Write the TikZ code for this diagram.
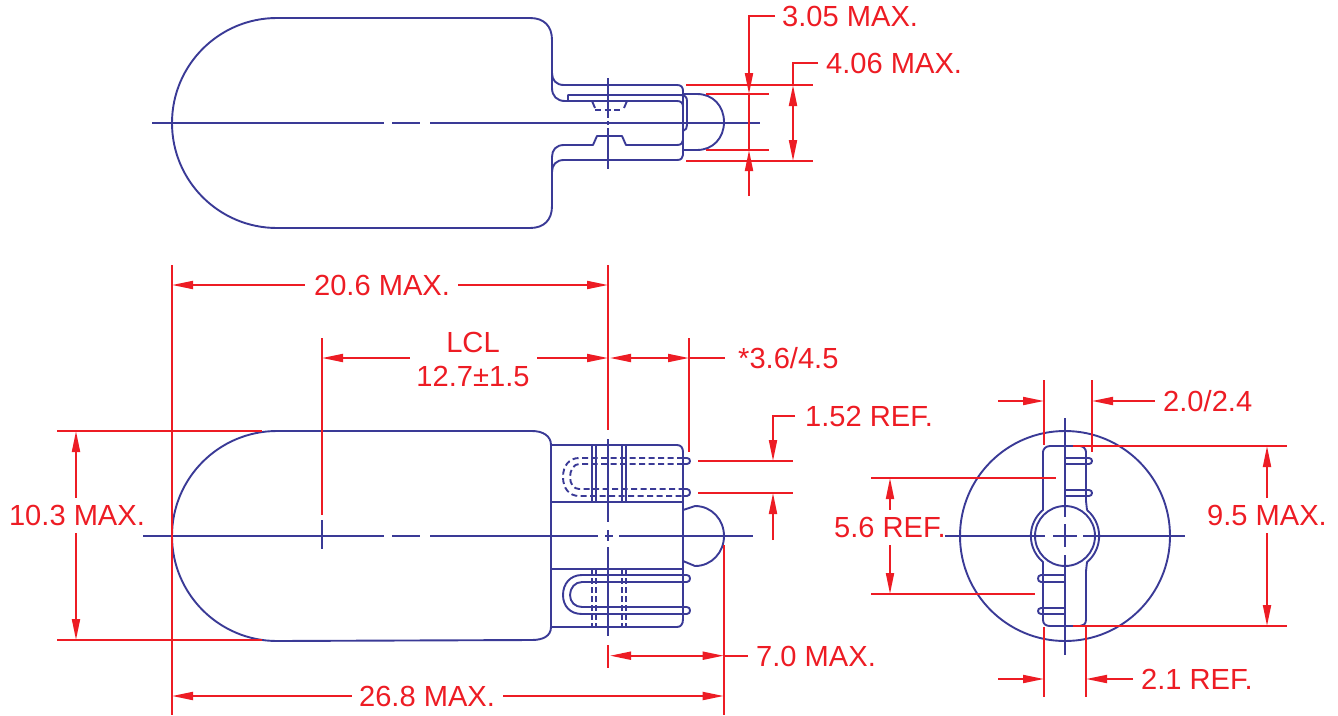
\documentclass[tikz,border=0pt]{standalone}
\usepackage{fontspec}
\setmainfont{Liberation Sans}
\usetikzlibrary{arrows.meta}
\definecolor{dblue}{HTML}{3A3A96}
\definecolor{dred}{HTML}{ED1C24}
\tikzset{
  bl/.style={draw=dblue,line width=1.9pt,line join=round},
  bld/.style={bl,dash pattern=on 6pt off 3.5pt},
  rd/.style={draw=dred,line width=1.9pt},
  ar/.style={rd,-{Triangle[length=21pt,width=8pt]}},
  ra/.style={rd,{Triangle[length=21pt,width=8pt]}-},
  aa/.style={rd,{Triangle[length=21pt,width=8pt]}-{Triangle[length=21pt,width=8pt]}},
  lbl/.style={text=dred,inner sep=0pt,font=\fontsize{29.1}{34}\selectfont},
}
\begin{document}
\begin{tikzpicture}[x=1pt,y=-1pt]
\useasboundingbox (0,0) rectangle (1338,715);
% ---------- TOP VIEW ----------
\draw[bl] (277,18) arc[start angle=-90,end angle=-270,radius=105] -- (530,228)
  .. controls (544,228) and (552,220) .. (552,206) -- (552,157) .. controls (552,150) and (556,145) .. (564,145)
  -- (593,145) -- (597,136) -- (622,136) -- (626,145) -- (677,145) .. controls (681,145) and (683,143) .. (683,140)
  -- (683,107) .. controls (683,103) and (681,101) .. (677,101) -- (565,101)
  .. controls (557,101) and (552,96) .. (552,88);
\draw[bl] (277,18) -- (530,18) .. controls (544,18) and (552,26) .. (552,40) -- (552,88);
\draw[bl] (552,73) .. controls (552,80) and (556,85) .. (564,85) -- (677,85) .. controls (681,85) and (683,87) .. (683,91)
  -- (683,155) .. controls (683,158) and (681,160) .. (677,160) -- (564,160) .. controls (556,160) and (552,165) .. (552,172);
\draw[bl] (568,101) -- (568,95) -- (680,95) .. controls (685,95) and (687,97) .. (687,101) -- (687,125) .. controls (687,128) and (686,130) .. (683,131);
\draw[bl] (683,94) -- (697,94) .. controls (713,94) and (724,106) .. (724,122) .. controls (724,138) and (713,150) .. (697,150) -- (683,150);
\draw[bl] (592,101) -- (595,108);
\draw[bl] (627,101) -- (624,108);
\draw[bld] (595,110) -- (622,110);
\draw[bl] (152,123) -- (384,123) (392,123) -- (420,123) (430,123) -- (760,123);
\draw[bl] (608,78) -- (608,118) (608,121) -- (608,125) (608,128) -- (608,169);
% top dims
\draw[rd] (686,85) -- (813,85) (686,161) -- (813,161) (706,94) -- (769,94) (706,150) -- (769,150);
\draw[rd] (749,94) -- (749,150);
\node[lbl,anchor=west] (t305) at (782,16.5) {3.05 MAX.};
\node[lbl,anchor=west] (t406) at (826,63.5) {4.06 MAX.};
\draw[ar] (775,16) -- (749,16) -- (749,94);
\draw[ar] (749,196) -- (749,150);
\draw[rd] (818,63) -- (793,63) -- (793,85);
\draw[aa] (793,85) -- (793,161);
% ---------- SIDE VIEW ----------
\draw[bl] (277,431) arc[start angle=-90,end angle=-270,radius=105] -- (532,640)
  .. controls (543,640) and (551,636) .. (551,627);
\draw[bl] (277,431) -- (532,431) .. controls (543,431) and (551,436) .. (551,445) -- (551,627) -- (677,627)
  .. controls (681,627) and (683,624) .. (683,619) -- (683,452) .. controls (683,448) and (681,445) .. (677,445) -- (551,445);
\draw[bl] (551,502) -- (683,502) (551,569) -- (683,569);
\foreach \x in {592,596,622,626}{
  \draw[bl,line width=1.4pt] (\x,445) -- (\x,502);
  \draw[bld,line width=1.4pt,dash pattern=on 6pt off 3pt] (\x,569) -- (\x,626);
}
\draw[bl] (683,510) -- (695,506) .. controls (712,506) and (724,520) .. (724,536) .. controls (724,552) and (712,566) .. (695,566) -- (683,561);
% upper pins (hidden)
\draw[bld] (683,458) -- (579,458) .. controls (569,458) and (563,466) .. (563,477) .. controls (563,488) and (569,496) .. (579,496) -- (683,496);
\draw[bld] (683,464) -- (579,464) .. controls (574,464) and (570,470) .. (570,477) .. controls (570,484) and (574,489) .. (579,489) -- (683,489);
\draw[bl] (683,458) -- (687,458) .. controls (691,458) and (691,464) .. (687,464) -- (683,464);
\draw[bl] (683,489) -- (687,489) .. controls (691,489) and (691,496) .. (687,496) -- (683,496);
% lower pins
\draw[bl] (687,575) -- (582,575) .. controls (570,575) and (563,584) .. (563,595) .. controls (563,606) and (570,614) .. (582,614) -- (687,614);
\draw[bl] (687,582) -- (582,582) .. controls (575,582) and (570,588) .. (570,595) .. controls (570,602) and (575,607) .. (582,607) -- (687,607);
\draw[bl] (687,575) .. controls (691,575) and (691,582) .. (687,582);
\draw[bl] (687,607) .. controls (691,607) and (691,614) .. (687,614);
% centre lines
\draw[bl] (143,536) -- (384,536) (392,536) -- (420,536) (430,536) -- (598,536) (605,536) -- (613,536) (619,536) -- (753,536);
\draw[bl] (608,439) -- (608,522) (608,530) -- (608,541) (608,547) -- (608,636);
\draw[bl] (322,520) -- (322,549);
% side dims
\draw[rd] (172,265) -- (172,715);
\draw[rd] (608,265) -- (608,430);
\draw[rd] (608,645) -- (608,668);
\draw[rd] (322,338) -- (322,515);
\draw[rd] (689,338) -- (689,452);
\draw[rd] (723.7,545) -- (723.7,715);
\draw[rd] (57,431) -- (262,431) (57,640) -- (262,640);
\draw[rd] (698,461) -- (793,461) (698,493) -- (793,493);
\node[lbl] (t206) at (382,285.5) {20.6 MAX.};
\draw[ra] (172,285) -- (305,285);
\draw[ar] (458,285) -- (608,285);
\node[lbl] (tlcl) at (473,342.5) {LCL};
\node[lbl] (t127) at (473,376.5) {12.7±1.5};
\draw[ra] (322,358) -- (410,358);
\draw[ar] (537,358) -- (608,358);
\draw[aa] (610,358) -- (689,358);
\draw[rd] (689,358) -- (725,358);
\node[lbl,anchor=west] (t36) at (738,358.5) {*3.6/4.5};
\node[lbl] (t103) at (77,515.5) {10.3 MAX.};
\draw[ra] (76,431) -- (76,498);
\draw[ar] (76,533) -- (76,640);
\node[lbl,anchor=west] (t152) at (805,416.5) {1.52 REF.};
\draw[ar] (795,416) -- (773,416) -- (773,461);
\draw[ar] (773,540) -- (773,493);
\node[lbl,anchor=west] (t70) at (756,656) {7.0 MAX.};
\draw[aa] (610,655.7) -- (723.7,655.7);
\draw[rd] (723.7,655.7) -- (748,655.7);
\node[lbl] (t268) at (427,696) {26.8 MAX.};
\draw[ra] (172,696) -- (352,696);
\draw[ar] (503,696) -- (723.7,696);
% ---------- END VIEW ----------
\draw[bl] (1065,536) circle[radius=105];
\draw[bl] (1065,536) circle[radius=30];
\draw[bl] (1087,510) arc[start angle=-50,end angle=50,radius=34]
  .. controls (1087,566) and (1086,567) .. (1086,571) -- (1086,620) .. controls (1086,624) and (1083,626) .. (1080,626)
  -- (1050,626) .. controls (1046,626) and (1043,624) .. (1043,620) -- (1043,571) .. controls (1043,567) and (1043,566) .. (1043,562)
  arc[start angle=130,end angle=230,radius=34]
  .. controls (1043,506) and (1043,505) .. (1043,501) -- (1043,452) .. controls (1043,449) and (1046,446) .. (1050,446)
  -- (1080,446) .. controls (1083,446) and (1086,449) .. (1086,452) -- (1086,501) .. controls (1086,505) and (1087,506) .. (1087,510);
\draw[bl] (1065,458) -- (1089,458) .. controls (1093,458) and (1093,464) .. (1089,464) -- (1065,464);
\draw[bl] (1065,490) -- (1089,490) .. controls (1093,490) and (1093,496) .. (1089,496) -- (1065,496);
\draw[bl] (1065,575) -- (1041,575) .. controls (1037,575) and (1037,582) .. (1041,582) -- (1065,582);
\draw[bl] (1065,608) -- (1041,608) .. controls (1037,608) and (1037,614) .. (1041,614) -- (1065,614);
\draw[bl] (945,536) -- (1045,536) (1053,536) -- (1077,536) (1083,536) -- (1185,536);
\draw[bl] (1065,418) -- (1065,517) (1065,524) -- (1065,547) (1065,555) -- (1065,655);
% end dims
\draw[rd] (1044,380) -- (1044,445) (1092,380) -- (1092,452);
\draw[rd] (1044,627) -- (1044,697) (1086,626) -- (1086,697);
\draw[rd] (1073,446) -- (1287,446) (1073,626) -- (1287,626);
\draw[rd] (871,478) -- (1056,478) (871,594) -- (1035,594);
\node[lbl,anchor=west] (t20) at (1163,401.5) {2.0/2.4};
\draw[ar] (998,401) -- (1044,401);
\draw[ar] (1155,401) -- (1092,401);
\node[lbl] (t95) at (1267,515.5) {9.5 MAX.};
\draw[ra] (1267,446) -- (1267,498);
\draw[ar] (1267,533) -- (1267,626);
\node[lbl] (t56) at (890,527.5) {5.6 REF.};
\draw[ra] (890,478) -- (890,510);
\draw[ar] (890,545) -- (890,594);
\node[lbl,anchor=west] (t21) at (1141,679.5) {2.1 REF.};
\draw[ar] (998,679) -- (1044,679);
\draw[ar] (1133,679) -- (1086,679);
\end{tikzpicture}
\end{document}
